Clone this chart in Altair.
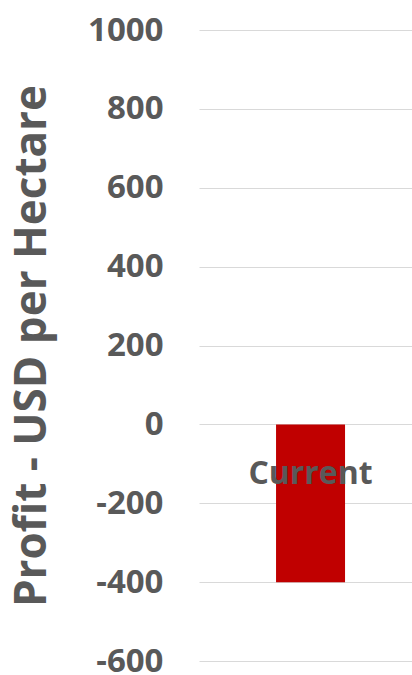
import altair as alt
import pandas as pd

# Scenario profit (USD per hectare)
scenarios = ["Current"]
profits = [-400]

y_ticks = [-600, -400, -200, 0, 200, 400, 600, 800, 1000]

df = pd.DataFrame({"scenario": scenarios, "profit": profits})

GRAY = "#595959"
FONT = "Open Sans"

x = alt.X(
    "scenario:N",
    axis=None,
    scale=alt.Scale(paddingInner=0.0417, paddingOuter=1, align=0.535),
)

bars = alt.Chart(df).mark_bar(color="#C00000").encode(
    x=x,
    y=alt.Y(
        "profit:Q",
        scale=alt.Scale(domain=[-600, 1000], nice=False),
        axis=alt.Axis(
            values=y_ticks,
            labelExpr="datum.value + ''",
            title="Profit - USD per Hectare",
            titleFont=FONT,
            titleFontSize=44,
            titleFontWeight="bold",
            titleColor=GRAY,
            titleAngle=270,
            titleAlign="center",
            titleBaseline="alphabetic",
            titleX=-154,
            titleY=315.5,
            labelFont=FONT,
            labelFontSize=33,
            labelFontWeight="bold",
            labelColor=GRAY,
            labelPadding=36,
            domain=False,
            ticks=False,
            grid=True,
            gridColor="#D9D9D9",
            gridWidth=1,
        ),
    ),
)

labels = alt.Chart(df).mark_text(
    font=FONT, fontSize=32, fontWeight="bold", color=GRAY, baseline="middle", dy=50
).encode(x=x, y=alt.datum(0), text="scenario:N")

chart = (
    alt.layer(bars, labels)
    .properties(
        width=213,
        height=631,
        autosize=alt.AutoSizeParams(type="none"),
        padding={"left": 199, "top": 30, "right": 0, "bottom": 14},
    )
    .configure_view(stroke=None)
)

chart.save("out.html", embed_options={"renderer": "svg", "actions": False})
